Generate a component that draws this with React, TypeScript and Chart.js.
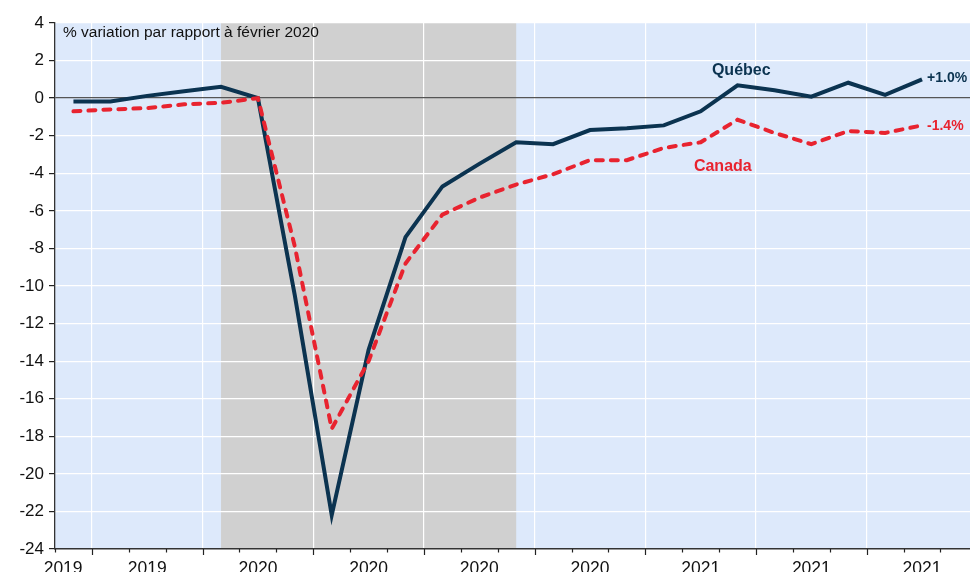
import { useEffect, useRef } from 'react';
import { Chart, registerables } from 'chart.js';
Chart.register(...registerables);

// Monthly data, Sep 2019 .. Aug 2021 (% change vs Feb 2020)
const months = [
  '2019-09', '2019-10', '2019-11', '2019-12',
  '2020-01', '2020-02', '2020-03', '2020-04', '2020-05', '2020-06',
  '2020-07', '2020-08', '2020-09', '2020-10', '2020-11', '2020-12',
  '2021-01', '2021-02', '2021-03', '2021-04', '2021-05', '2021-06',
  '2021-07', '2021-08',
];
const quebec = [
  -0.18, -0.18, 0.12, 0.37,
  0.6, 0, -10.5, -22.2, -13.4, -7.4,
  -4.7, -3.5, -2.35, -2.45, -1.7, -1.6,
  -1.45, -0.7, 0.68, 0.42, 0.08, 0.82,
  0.17, 1.0,
];
const canada = [
  -0.7, -0.6, -0.53, -0.33,
  -0.25, 0, -7.9, -17.6, -14.0, -8.8,
  -6.2, -5.3, -4.6, -4.05, -3.3, -3.3,
  -2.65, -2.35, -1.15, -1.85, -2.45, -1.75,
  -1.85, -1.45,
];
const quarterLabels = ['2019', '2019', '2020', '2020', '2020', '2020', '2021', '2021', '2021'];
const quarterCenters = [-0.28, 2, 5, 8, 11, 14, 17, 20, 23];
const shadeStart = 4; // Jan 2020
const shadeEnd = 12; // Sep 2020
const yMin = -24;
const yMax = 4;
const yStep = 2;
const xMin = -0.5;
const xMax = 24.3;

const subtitle = '% variation par rapport à février 2020';
const quebecLabel = 'Québec';
const canadaLabel = 'Canada';
const quebecEnd = '+1.0%';
const canadaEnd = '-1.4%';

const NAVY = '#0b3350';
const RED = '#e8232f';
const FONT = 'Arial, "Liberation Sans", sans-serif';

const isBoundary = (v: number) => Math.abs((v - 0.5) - Math.round(v - 0.5)) < 1e-6;
const isMajor = (v: number) => isBoundary(v) && Math.abs(((v - 0.5) % 3 + 3) % 3) < 1e-6;

const boundaries: number[] = [];
for (let v = -0.5; v <= xMax; v += 1) boundaries.push(v);

const bgPlugin = {
  id: 'bgPlugin',
  beforeDraw(chart: any) {
    const { ctx, chartArea, scales } = chart;
    const { left, right, top, bottom } = chartArea;
    ctx.save();
    ctx.fillStyle = '#dde9fb';
    ctx.fillRect(left, top, right - left, bottom - top);
    const x0 = scales.x.getPixelForValue(shadeStart);
    const x1 = scales.x.getPixelForValue(shadeEnd);
    ctx.fillStyle = '#d0d0d0';
    ctx.fillRect(x0, top, x1 - x0, bottom - top);
    ctx.restore();
  },
};

const decoPlugin = {
  id: 'decoPlugin',
  afterDraw(chart: any) {
    const { ctx, chartArea, scales } = chart;
    const { left, bottom } = chartArea;
    const x = scales.x;
    const y = scales.y;
    ctx.save();
    // x tick marks
    ctx.strokeStyle = '#222';
    ctx.lineWidth = 1.2;
    boundaries.forEach((v) => {
      if (v < xMin || v > xMax) return;
      const px = Math.round(x.getPixelForValue(v)) + 0.5;
      const len = isMajor(v) ? 6 : 3.5;
      ctx.beginPath();
      ctx.moveTo(px, bottom);
      ctx.lineTo(px, bottom + len);
      ctx.stroke();
    });
    // subtitle
    ctx.fillStyle = '#111';
    ctx.font = `15.5px ${FONT}`;
    ctx.textAlign = 'left';
    ctx.textBaseline = 'middle';
    ctx.fillText(subtitle, left + 8, chartArea.top + 10);
    // series labels
    const lastI = quebec.length - 1;
    ctx.font = `bold 16px ${FONT}`;
    ctx.textAlign = 'center';
    ctx.fillStyle = NAVY;
    ctx.fillText(quebecLabel, x.getPixelForValue(18.1), y.getPixelForValue(1.46));
    ctx.fillStyle = RED;
    ctx.fillText(canadaLabel, x.getPixelForValue(17.6), y.getPixelForValue(-3.62));
    ctx.font = `bold 14px ${FONT}`;
    ctx.textAlign = 'left';
    ctx.fillStyle = NAVY;
    ctx.fillText(quebecEnd, x.getPixelForValue(lastI) + 5, y.getPixelForValue(quebec[lastI]) - 1);
    ctx.fillStyle = RED;
    ctx.fillText(canadaEnd, x.getPixelForValue(lastI) + 5, y.getPixelForValue(canada[lastI]) + 0.5);
    ctx.restore();
  },
};

export default function App() {
  const ref = useRef<HTMLCanvasElement>(null);
  useEffect(() => {
    if (!ref.current) return;
    const chart = new Chart(ref.current, {
      type: 'line',
      data: {
        labels: months,
        datasets: [
          {
            label: quebecLabel,
            data: quebec.map((v, i) => ({ x: i, y: v })),
            borderColor: NAVY,
            borderWidth: 4,
            pointRadius: 0,
            tension: 0,
            borderJoinStyle: 'miter',
            order: 1,
          },
          {
            label: canadaLabel,
            data: canada.map((v, i) => ({ x: i, y: v })),
            borderColor: RED,
            borderWidth: 4,
            borderDash: [7, 8],
            borderCapStyle: 'round',
            pointRadius: 0,
            tension: 0,
            order: 0,
          },
        ],
      },
      options: {
        responsive: false,
        animation: false,
        devicePixelRatio: 1,
        layout: { padding: { top: 23, right: 0, left: 0, bottom: 0 } },
        plugins: { legend: { display: false }, tooltip: { enabled: false } },
        scales: {
          x: {
            type: 'linear',
            min: xMin,
            max: xMax,
            afterBuildTicks: (scale: any) => {
              const vals = [...boundaries.filter((v) => v >= xMin && v <= xMax), ...quarterCenters];
              vals.sort((a, b) => a - b);
              scale.ticks = vals.map((v) => ({ value: v }));
            },
            afterFit: (scale: any) => {
              scale.height = 23;
            },
            grid: {
              drawTicks: false,
              color: (ctx: any) => {
                const v = ctx.tick ? ctx.tick.value : NaN;
                return isMajor(v) ? '#ffffff' : 'rgba(0,0,0,0)';
              },
              lineWidth: 1.2,
            },
            border: { display: true, color: '#333', width: 1.6 },
            ticks: {
              autoSkip: false,
              maxRotation: 0,
              padding: 10,
              color: '#111',
              font: { family: FONT, size: 17.5 },
              callback: (value: any) => {
                const idx = quarterCenters.findIndex((c) => Math.abs(c - value) < 1e-6);
                return idx >= 0 ? quarterLabels[idx] : '';
              },
            },
          },
          y: {
            min: yMin,
            max: yMax,
            afterFit: (scale: any) => {
              scale.width = 55;
            },
            grid: {
              color: (ctx: any) => (ctx.tick && ctx.tick.value === 0 ? '#555' : '#ffffff'),
              lineWidth: (ctx: any) => (ctx.tick && ctx.tick.value === 0 ? 1.3 : 1.2),
              tickColor: '#222',
              tickLength: 6,
            },
            border: { display: true, color: '#333', width: 1.3 },
            ticks: {
              stepSize: yStep,
              padding: 5,
              color: '#111',
              font: { family: FONT, size: 17 },
              callback: (value: any) => String(value),
            },
          },
        },
      },
      plugins: [bgPlugin, decoPlugin],
    });
    return () => chart.destroy();
  }, []);
  return (
    <div style={{ position: 'absolute', left: 0, top: 0, width: 970, height: 572 }}>
      <canvas ref={ref} width={970} height={572} style={{ display: 'block' }} />
    </div>
  );
}
